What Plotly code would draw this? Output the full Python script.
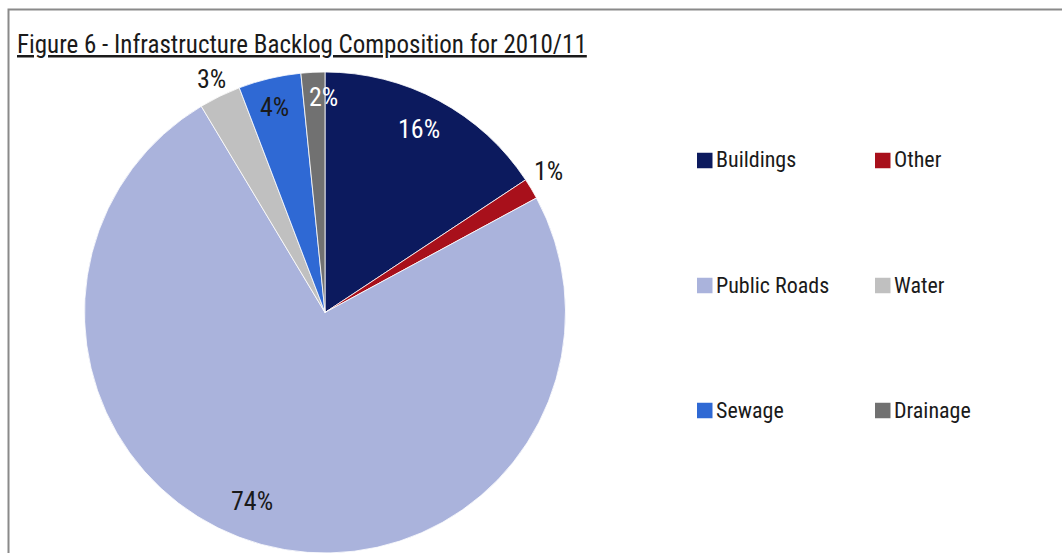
import math
import plotly.graph_objects as go

# Backlog composition by infrastructure type, 2010/11 (share of total, %)
categories = ["Buildings", "Other", "Public Roads", "Water", "Sewage", "Drainage"]
shares = [15.7, 1.4, 74.3, 2.8, 4.2, 1.6]
colors = ["#0c1a5e", "#a8101b", "#aab3dc", "#c0c0c0", "#2f69d4", "#717171"]

TITLE = "Figure 6 - Infrastructure Backlog Composition for 2010/11"

W, H = 1062, 553
FONT = "Roboto Condensed, Liberation Sans Narrow, DejaVu Sans Condensed, sans-serif"
INK = "#1a1a1a"

# pie placement (pixels)
CX, R = 325, 240.5
TOP = 72
dom_x = [(CX - R) / W, (CX + R) / W]
dom_y = [0, (H - TOP) / H]
CY = TOP + R

# percentage label placement: radius factor, angle nudge (deg), text colour
label_style = {
    "Buildings":    (0.856, -1.0, "white"),
    "Other":        (1.10, -1.3, INK),
    "Public Roads": (0.84, 6.0, INK),
    "Water":        (1.08, 0.0, INK),
    "Sewage":       (0.88, -0.5, INK),
    "Drainage":     (0.897, 2.4, "white"),
}

fig = go.Figure(
    go.Pie(
        labels=categories,
        values=shares,
        sort=False,
        direction="clockwise",
        rotation=0,
        marker=dict(colors=colors, line=dict(color="white", width=0.8)),
        textinfo="none",
        hoverinfo="label+percent",
        showlegend=False,
        domain=dict(x=dom_x, y=dom_y),
    )
)

annotations = []
shapes = []

# percentage labels, positioned from each slice's mid-angle
total = sum(shares)
cum = 0.0
for name, v in zip(categories, shares):
    mid = (cum + v / 2) / total * 360.0
    cum += v
    f, nudge, col = label_style[name]
    a = math.radians(mid + nudge)
    px = CX + R * f * math.sin(a)
    py = CY - R * f * math.cos(a)
    annotations.append(dict(
        x=px / W, y=1 - py / H, xref="paper", yref="paper",
        text=f"{round(v / total * 100)}%", showarrow=False,
        xanchor="center", yanchor="middle",
        font=dict(family=FONT, size=26, color=col),
    ))

# two-column legend
LEG_X0, LEG_DX = 697, 178
LEG_Y0, LEG_DY = 160.5, 125
SW = 15.5
for i, (name, col) in enumerate(zip(categories, colors)):
    c, r = i % 2, i // 2
    x0 = LEG_X0 + c * LEG_DX
    yc = LEG_Y0 + r * LEG_DY
    shapes.append(dict(
        type="rect", xref="paper", yref="paper",
        x0=x0 / W, x1=(x0 + SW) / W,
        y0=1 - (yc + SW / 2) / H, y1=1 - (yc - SW / 2) / H,
        fillcolor=col, line=dict(width=0),
    ))
    annotations.append(dict(
        x=(x0 + SW + 1) / W, y=1 - (yc - 0.5) / H, xref="paper", yref="paper",
        text=name, showarrow=False, xanchor="left", yanchor="middle",
        font=dict(family=FONT, size=22, color=INK),
    ))

# title
annotations.append(dict(
    x=15 / W, y=1 - 45 / H, xref="paper", yref="paper",
    text=f"<u>{TITLE}</u>", showarrow=False, xanchor="left", yanchor="middle",
    font=dict(family=FONT, size=25, color=INK),
))

# chart frame
shapes.append(dict(
    type="rect", xref="paper", yref="paper",
    x0=8.5 / W, x1=1.02, y0=-0.02, y1=1 - 9.5 / H,
    line=dict(color="#8a8a8a", width=2), fillcolor="rgba(0,0,0,0)", layer="below",
))

fig.update_layout(
    width=W, height=H, autosize=False,
    margin=dict(l=0, r=0, t=0, b=0),
    paper_bgcolor="white", plot_bgcolor="white",
    annotations=annotations, shapes=shapes,
)

fig.write_html("out.html")
